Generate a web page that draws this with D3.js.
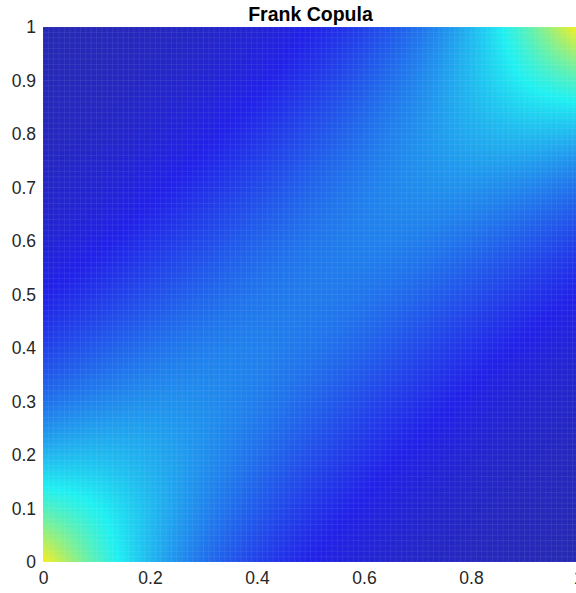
<!DOCTYPE html>
<html>
<head>
<meta charset="utf-8">
<script src="https://cdn.jsdelivr.net/npm/d3@7/dist/d3.min.js"></script>
<style>
  body { margin: 0; background: #fff; }
  svg text { font-family: "Liberation Sans", Arial, sans-serif; }
</style>
</head>
<body>
<div class="canva"></div>
<script>
// grid the surface was sampled on (u along x, v along y)
const uGrid = [0, 0.1, 0.2, 0.3, 0.4, 0.5, 0.6, 0.7, 0.8, 0.9, 1];
const vGrid = [0, 0.1, 0.2, 0.3, 0.4, 0.5, 0.6, 0.7, 0.8, 0.9, 1];

// density, one row per v (bottom row first)
const density = [
  [4.07, 2.73, 1.83, 1.23, 0.82, 0.55, 0.37, 0.25, 0.17, 0.11, 0.07],
  [2.73, 2.32, 1.85, 1.40, 1.03, 0.73, 0.51, 0.35, 0.24, 0.16, 0.11],
  [1.83, 1.85, 1.72, 1.49, 1.21, 0.93, 0.69, 0.50, 0.35, 0.24, 0.17],
  [1.23, 1.40, 1.49, 1.46, 1.33, 1.12, 0.89, 0.68, 0.50, 0.35, 0.25],
  [0.82, 1.03, 1.21, 1.33, 1.35, 1.26, 1.10, 0.89, 0.69, 0.51, 0.37],
  [0.55, 0.73, 0.93, 1.12, 1.26, 1.31, 1.26, 1.12, 0.93, 0.73, 0.55],
  [0.37, 0.51, 0.69, 0.89, 1.10, 1.26, 1.35, 1.33, 1.21, 1.03, 0.82],
  [0.25, 0.35, 0.50, 0.68, 0.89, 1.12, 1.33, 1.46, 1.49, 1.40, 1.23],
  [0.17, 0.24, 0.35, 0.50, 0.69, 0.93, 1.21, 1.49, 1.72, 1.85, 1.83],
  [0.11, 0.16, 0.24, 0.35, 0.51, 0.73, 1.03, 1.40, 1.85, 2.32, 2.73],
  [0.07, 0.11, 0.17, 0.25, 0.37, 0.55, 0.82, 1.23, 1.83, 2.73, 4.07]
];

const xTicks = [0, 0.2, 0.4, 0.6, 0.8, 1];
const yTicks = [0, 0.1, 0.2, 0.3, 0.4, 0.5, 0.6, 0.7, 0.8, 0.9, 1];
const chartTitle = "Frank Copula";

const svg = d3.select(".canva").append("svg")
  .attr("width", 576)
  .attr("height", 593);

const margin = {top: 27, left: 43};
const side = 535;

const x = d3.scaleLinear().domain([0, 1]).range([margin.left, margin.left + side]);
const y = d3.scaleLinear().domain([0, 1]).range([margin.top + side, margin.top]);

// jet-like colour map, clipped at yellow like the original
const color = d3.scaleLinear()
  .domain([0.07, 0.55, 2.31, 4.07])
  .range(["#2629b2", "#2121e8", "#1ff0f2", "#f8ef1a"])
  .clamp(true);

// lookup table so we don't parse colour strings per pixel
const lutN = 1024;
const cMin = 0, cMax = 4.2;
const lut = d3.range(lutN).map(k => d3.rgb(color(cMin + (cMax - cMin) * k / (lutN - 1))));

// smooth (bicubic) shading between grid samples, like shading interp
const nx = uGrid.length, ny = vGrid.length;
function val(r, c) {
  // linear extrapolation past the edges
  if (c < 0) return 2 * val(r, 0) - val(r, 1);
  if (c > nx - 1) return 2 * val(r, nx - 1) - val(r, nx - 2);
  if (r < 0) return 2 * val(0, c) - val(1, c);
  if (r > ny - 1) return 2 * val(ny - 1, c) - val(ny - 2, c);
  return density[r][c];
}
function cubic(p0, p1, p2, p3, t) {
  return p1 + 0.5 * t * (p2 - p0 + t * (2 * p0 - 5 * p1 + 4 * p2 - p3 + t * (3 * (p1 - p2) + p3 - p0)));
}
const gx = d3.scaleLinear().domain(d3.extent(uGrid)).range([0, nx - 1]);
const gy = d3.scaleLinear().domain(d3.extent(vGrid)).range([0, ny - 1]);
function sample(u, v) {
  const fx = gx(u), fy = gy(v);
  const i = Math.min(nx - 2, Math.floor(fx)), j = Math.min(ny - 2, Math.floor(fy));
  const tx = fx - i, ty = fy - j;
  const rows = [];
  for (let r = j - 1; r <= j + 2; r++) {
    rows.push(cubic(val(r, i - 1), val(r, i), val(r, i + 1), val(r, i + 2), tx));
  }
  return cubic(rows[0], rows[1], rows[2], rows[3], ty);
}

const canvas = document.createElement("canvas");
canvas.width = side;
canvas.height = side;
const ctx = canvas.getContext("2d");
const img = ctx.createImageData(side, side);
for (let py = 0; py < side; py++) {
  const v = y.invert(margin.top + py + 0.5);
  for (let px = 0; px < side; px++) {
    const u = x.invert(margin.left + px + 0.5);
    const c = sample(u, v);
    let k = Math.round((c - cMin) / (cMax - cMin) * (lutN - 1));
    k = Math.max(0, Math.min(lutN - 1, k));
    const col = lut[k];
    const o = (py * side + px) * 4;
    img.data[o] = col.r;
    img.data[o + 1] = col.g;
    img.data[o + 2] = col.b;
    img.data[o + 3] = 255;
  }
}
ctx.putImageData(img, 0, 0);

svg.append("image")
  .attr("x", x(0))
  .attr("y", y(1))
  .attr("width", x(1) - x(0))
  .attr("height", y(0) - y(1))
  .attr("preserveAspectRatio", "none")
  .attr("href", canvas.toDataURL());

// faint surface mesh lines (the surf edges show through in the original)
const mesh = d3.range(0, 101).map(k => k / 100);
const meshG = svg.append("g")
  .attr("stroke", "#ffffff")
  .attr("stroke-opacity", 0.07)
  .attr("stroke-width", 1);
meshG.selectAll("line.mx")
  .data(mesh)
  .enter()
  .append("line")
    .attr("class", "mx")
    .attr("x1", d => x(d)).attr("x2", d => x(d))
    .attr("y1", y(0)).attr("y2", y(1));
meshG.selectAll("line.my")
  .data(mesh)
  .enter()
  .append("line")
    .attr("class", "my")
    .attr("y1", d => y(d)).attr("y2", d => y(d))
    .attr("x1", x(0)).attr("x2", x(1));

// axes
const xAxis = svg.append("g")
  .attr("transform", `translate(0,${y(0)})`)
  .call(d3.axisBottom(x).tickValues(xTicks).tickSize(0).tickPadding(10).tickFormat(d3.format("")));
const yAxis = svg.append("g")
  .attr("transform", `translate(${x(0)},0)`)
  .call(d3.axisLeft(y).tickValues(yTicks).tickSize(0).tickPadding(7).tickFormat(d3.format("")));

[xAxis, yAxis].forEach(g => {
  g.select(".domain").remove();
  g.selectAll("text")
    .attr("fill", "#262626")
    .style("font-size", "17.5px")
    .style("font-family", "'Liberation Sans', Arial, sans-serif");
});

svg.append("text")
  .attr("x", (x(0) + x(1)) / 2)
  .attr("y", 21)
  .attr("text-anchor", "middle")
  .attr("fill", "#000")
  .style("font-size", "19.5px")
  .style("font-weight", "bold")
  .text(chartTitle);
</script>
</body>
</html>
